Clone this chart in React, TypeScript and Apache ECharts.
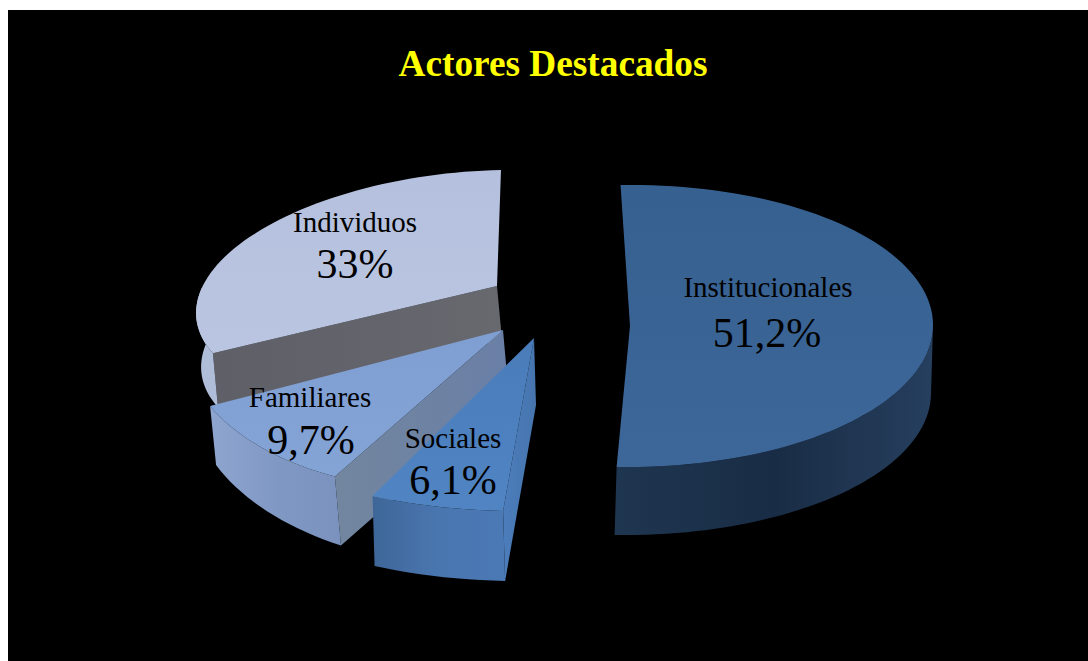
import React, { useEffect, useRef } from "react";
import * as echarts from "echarts";

const TITLE = "Actores Destacados";
const categories = ["Institucionales", "Sociales", "Familiares", "Individuos"];
const values = [51.2, 6.1, 9.7, 33];
const valueLabels = ["51,2%", "6,1%", "9,7%", "33%"];

// Painting order, back to front, as indexes into categories.
const drawOrder = [3, 2, 1, 0];
const START_ANGLE = -2.16;

// Look of each exploded slice, same order as categories.
const sliceLayout = [
  { cx: 630, cy: 326, apex: [630, 326], rx: 303, ry: 141, skew: -0.014, dropX: -2, depthStart: 68, depthEnd: 68, wallDepth: 68, nameAt: [768, 287], valueAt: [767, 333] },
  { cx: 534, cy: 338, apex: [534, 338], rx: 356, ry: 173, skew: -0.101, dropX: 2, depthStart: 70, depthEnd: 70, wallDepth: 67, nameAt: [453, 438], valueAt: [453, 480] },
  { cx: 503, cy: 315, apex: [503, 330], rx: 316, ry: 177, skew: -0.241, dropX: 6, depthStart: 69, depthEnd: 59, wallDepth: 68, nameAt: [310, 397], valueAt: [311, 440] },
  { cx: 462.5, cy: 291, apex: [497, 286], rx: 262, ry: 121, skew: -0.4, dropX: 5, depthStart: 54, depthEnd: 54, wallDepth: 54, nameAt: [355, 222], valueAt: [355, 264] },
];
const sliceColors = [
  { top: ["#35608f", "#3d6799"], side: ["#1f3650", "#192c45", "#263f5e"], wall: ["#1f3650", "#1f3650"] },
  { top: ["#4a7cba", "#5084c2"], side: ["#3e6698", "#4a76b0", "#4b79b5"], wall: ["#4c7dbb", "#4675ae"] },
  { top: ["#7f9fd3", "#84a4d6"], side: ["#8ea5cf", "#8098c4", "#7a92bd"], wall: ["#72869f", "#6a7fa6"] },
  { top: ["#b4c0dd", "#bac6e1"], side: ["#b0bdd8", "#b0bdd8", "#b0bdd8"], wall: ["#5e5f67", "#68696f"] },
];

const TEXT_FONT = '"Liberation Serif", "Times New Roman", serif';

function grad(stops: string[], horizontal = true) {
  return new echarts.graphic.LinearGradient(
    0,
    0,
    horizontal ? 1 : 0,
    horizontal ? 0 : 1,
    stops.map((color, i) => ({ offset: i / (stops.length - 1), color }))
  );
}

function sliceAngles(i: number) {
  const total = values.reduce((a, b) => a + b, 0);
  const before = values.slice(0, i).reduce((a, b) => a + b, 0);
  return [START_ANGLE + (before / total) * 360, START_ANGLE + ((before + values[i]) / total) * 360];
}

function renderSlice(params: any) {
  const i = drawOrder[params.dataIndex];
  const L = sliceLayout[i];
  const C = sliceColors[i];
  const [a0, a1] = sliceAngles(i);
  const rim = (deg: number) => {
    const t = (deg * Math.PI) / 180;
    const dy = -Math.cos(t) * L.ry;
    return [L.cx + Math.sin(t) * L.rx + L.skew * dy, L.cy + dy];
  };
  const arc = (from: number, to: number) => {
    const n = Math.max(2, Math.ceil(Math.abs(to - from) / 2));
    return Array.from({ length: n + 1 }, (_, k) => from + ((to - from) * k) / n);
  };
  const depthAt = (deg: number) => L.depthStart + ((L.depthEnd - L.depthStart) * (deg - a0)) / (a1 - a0);
  const children: any[] = [];

  if (a0 > 90 && a0 < 270) {
    const corner = rim(a0);
    children.push({
      type: "polygon",
      shape: {
        points: [
          L.apex,
          corner,
          [corner[0] + L.dropX, corner[1] + L.depthStart],
          [L.apex[0] + L.dropX, L.apex[1] + L.wallDepth],
        ],
      },
      style: { fill: grad(C.wall) },
    });
  }

  const from = Math.max(a0, 90);
  const to = Math.min(a1, 272);
  if (from < to) {
    const steps = arc(from, to);
    const upper = steps.map(rim);
    const lower = steps
      .map((deg) => {
        const p = rim(deg);
        return [p[0] + L.dropX, p[1] + depthAt(deg)];
      })
      .reverse();
    children.push({
      type: "polygon",
      shape: { points: [...upper, ...lower] },
      style: { fill: grad(C.side) },
    });
  }

  children.push({
    type: "polygon",
    shape: { points: [L.apex, ...arc(a0, a1).map(rim)] },
    style: { fill: grad(C.top, false) },
  });

  children.push({
    type: "text",
    style: {
      text: categories[i],
      x: L.nameAt[0],
      y: L.nameAt[1],
      fill: "#000000",
      font: `29px ${TEXT_FONT}`,
      align: "center",
      verticalAlign: "middle",
    },
  });
  children.push({
    type: "text",
    style: {
      text: valueLabels[i],
      x: L.valueAt[0],
      y: L.valueAt[1],
      fill: "#000000",
      font: `42px ${TEXT_FONT}`,
      align: "center",
      verticalAlign: "middle",
    },
  });
  return { type: "group", children };
}

export default function App() {
  const ref = useRef<HTMLDivElement>(null);
  useEffect(() => {
    const chart = echarts.init(ref.current!, undefined, { renderer: "svg" });
    chart.setOption({
      animation: false,
      backgroundColor: "#ffffff",
      title: {
        text: TITLE,
        left: 548,
        top: 40,
        textAlign: "center",
        textStyle: { color: "#ffff00", fontFamily: TEXT_FONT, fontSize: 37.3, fontWeight: "bold" },
      },
      graphic: [
        {
          type: "rect",
          silent: true,
          z: -1,
          shape: { x: 8, y: 10, width: 1080, height: 651 },
          style: { fill: "#000000" },
        },
      ],
      series: [
        {
          type: "custom",
          coordinateSystem: "none",
          silent: true,
          data: drawOrder.map((i) => values[i]),
          renderItem: renderSlice,
        },
      ],
    });
    return () => chart.dispose();
  }, []);
  return <div ref={ref} style={{ position: "fixed", left: 0, top: 0, width: 1088, height: 661 }} />;
}
